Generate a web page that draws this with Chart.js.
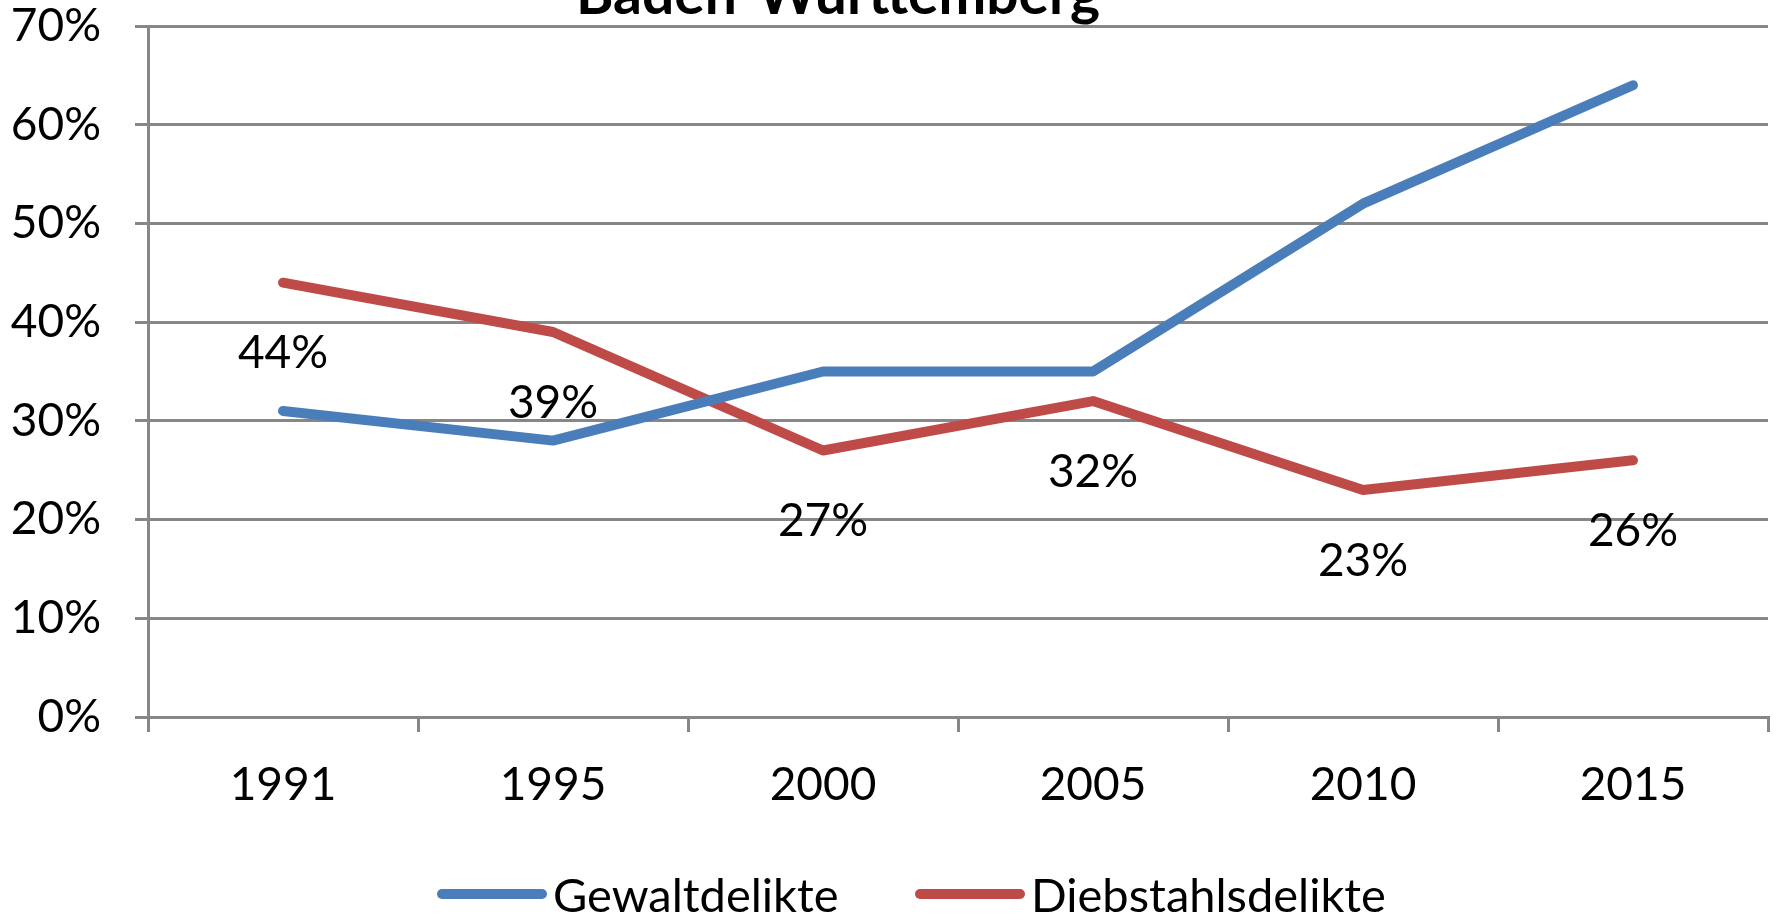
<!DOCTYPE html>
<html>
<head>
<meta charset="utf-8">
<script src="https://cdn.jsdelivr.net/npm/chart.js@4"></script>
<style>
  html, body { margin: 0; padding: 0; background: #fff; }
  #wrap { width: 1779px; height: 915px; position: relative; }
  #legenda { position: absolute; left: 0; top: 866px; width: 1779px; height: 56px; font-family: Lato, "Open Sans", sans-serif; font-size: 47px; color: #000; }
  .item { position: absolute; top: 0; display: flex; align-items: center; height: 56px; white-space: nowrap; }
  .linha { width: 110px; height: 10px; border-radius: 5px; margin-right: 6px; }
</style>
</head>
<body>
<div id="wrap">
  <canvas id="grafico"></canvas>
  <div id="legenda"></div>
</div>
<script>
const titulo = 'Baden-Württemberg'
const anos = ['1991', '1995', '2000', '2005', '2010', '2015']
const gewalt = [0.31, 0.28, 0.35, 0.35, 0.52, 0.64]
const diebstahl = [0.44, 0.39, 0.27, 0.32, 0.23, 0.26]

const AZUL = '#4A7EBB'
const VERMELHO = '#BE4B48'
const CINZA = '#878787'
const FONTE = 'Lato, "Open Sans", sans-serif'

// titulo cortado no topo, como no original
const tituloPlugin = {
  id: 'tituloCortado',
  afterDraw(chart) {
    const ctx = chart.ctx
    ctx.save()
    ctx.font = 'bold 57px ' + FONTE
    ctx.fillStyle = '#000'
    ctx.textAlign = 'center'
    ctx.textBaseline = 'alphabetic'
    ctx.fillText(titulo, 838, 14)
    ctx.restore()
  }
}

// rótulos só da série Diebstahlsdelikte, abaixo do ponto
const rotulosPlugin = {
  id: 'rotulos',
  afterDatasetsDraw(chart) {
    const ctx = chart.ctx
    const meta = chart.getDatasetMeta(1)
    ctx.save()
    ctx.font = '46px ' + FONTE
    ctx.fillStyle = '#000'
    ctx.textAlign = 'center'
    ctx.textBaseline = 'middle'
    meta.data.forEach((p, i) => {
      ctx.fillText(Math.round(diebstahl[i] * 100) + '%', p.x, p.y + 71)
    })
    ctx.restore()
  }
}

const chart = new Chart(document.getElementById('grafico'), {
  type: 'line',
  data: {
    labels: anos,
    datasets: [
      { label: 'Gewaltdelikte', data: gewalt, borderColor: AZUL, backgroundColor: AZUL, borderWidth: 10, pointRadius: 0, borderCapStyle: 'round', borderJoinStyle: 'round', tension: 0 },
      { label: 'Diebstahlsdelikte', data: diebstahl, borderColor: VERMELHO, backgroundColor: VERMELHO, borderWidth: 10, pointRadius: 0, borderCapStyle: 'round', borderJoinStyle: 'round', tension: 0 }
    ]
  },
  options: {
    responsive: true,
    maintainAspectRatio: false,
    animation: false,
    layout: { padding: { top: 26, right: 11, left: 0, bottom: 0 } },
    plugins: {
      title: { display: false },
      tooltip: { enabled: false },
      legend: { display: false }
    },
    scales: {
      x: {
        offset: true,
        grid: { offset: true, drawOnChartArea: false, drawTicks: true, tickLength: 15, color: CINZA, lineWidth: 3 },
        border: { color: CINZA, width: 3 },
        ticks: { font: { family: FONTE, size: 46 }, color: '#000', padding: 26, maxRotation: 0 },
        afterFit: s => { s.height = 198; s.paddingLeft = 0; s.paddingRight = 0 }
      },
      y: {
        min: 0,
        max: 0.7,
        ticks: { stepSize: 0.1, font: { family: FONTE, size: 46 }, color: '#000', padding: 34, callback: v => Math.round(v * 100) + '%' },
        grid: { color: CINZA, lineWidth: 3, tickLength: 13 },
        border: { color: CINZA, width: 3 },
        afterFit: s => { s.width = 148; s.paddingTop = 0; s.paddingBottom = 0 }
      }
    }
  },
  plugins: [tituloPlugin, rotulosPlugin]
})

// legenda em HTML, com as cores das séries
const legenda = document.getElementById('legenda')
const posLegenda = [437, 915]
chart.data.datasets.forEach((d, i) => {
  const item = document.createElement('div')
  item.className = 'item'
  item.style.left = posLegenda[i] + 'px'
  item.innerHTML = `<span class="linha" style="background:${d.borderColor}"></span><span>${d.label}</span>`
  legenda.appendChild(item)
})
</script>
</body>
</html>
